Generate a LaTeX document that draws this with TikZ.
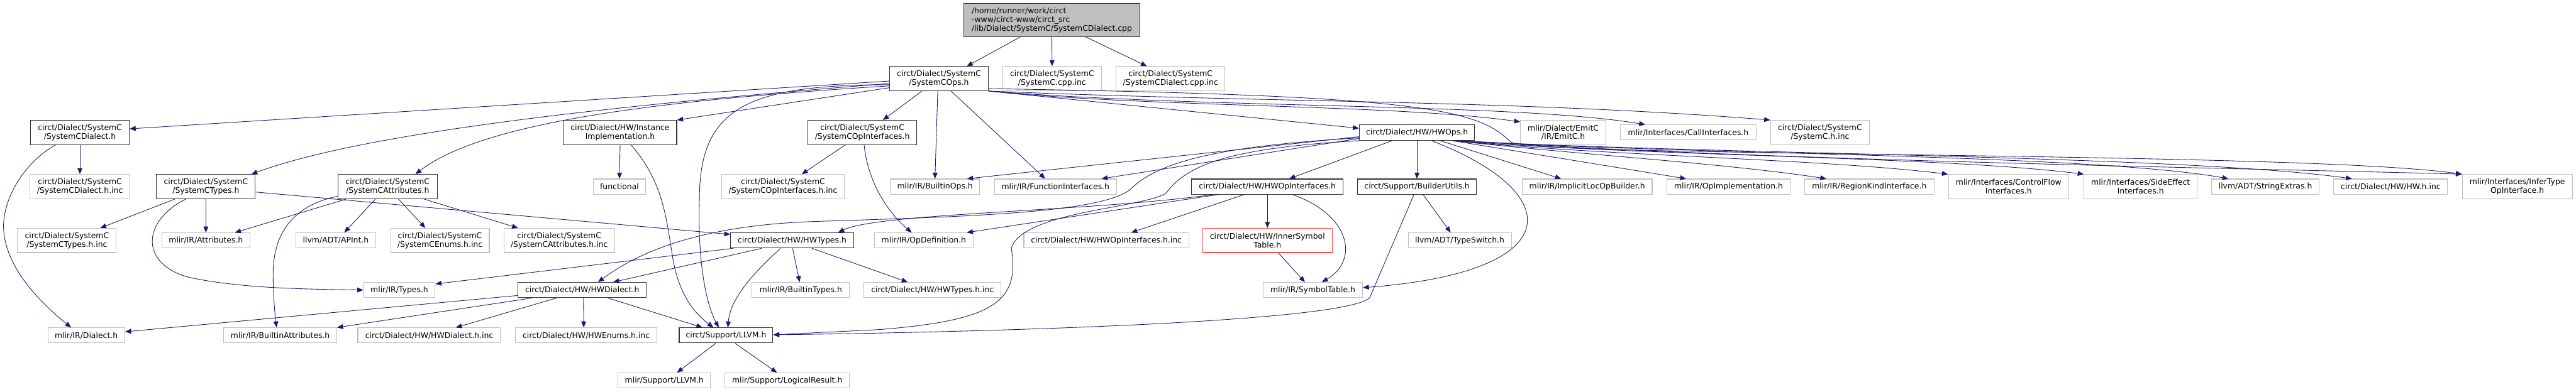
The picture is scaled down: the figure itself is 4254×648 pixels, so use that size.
\documentclass[tikz,border=0pt]{standalone}
\usepackage{fontspec}
\setmainfont{DejaVu Sans}
\usepackage{tikz}
\usetikzlibrary{arrows.meta}
\definecolor{edgeblue}{RGB}{25,25,112}
\definecolor{boxgray}{RGB}{191,191,191}

\begin{document}
\begin{tikzpicture}[
  x=1pt, y=-1pt,
  font=\fontsize{12.9}{14.5}\selectfont,
  hdrbox/.style={rectangle, draw=black!80, line width=1.1pt, fill=white,
                 inner sep=0pt, minimum height=25pt, align=center},
  extbox/.style={hdrbox, draw=boxgray},
  cutbox/.style={hdrbox, draw=red!70},
  two/.style={minimum height=40pt},
  arr/.style={-{Triangle[length=10pt,width=8pt]}, line width=0.9pt, edgeblue},
]
\useasboundingbox (0,0) rectangle (4254,648);

%% SOURCE FILE
\node[hdrbox, fill=boxgray, align=left, minimum width=290pt, minimum height=55pt] (root) at (1737, 33)
  {/home/runner/work/circt\\-www/circt-www/circt\_src\\/lib/Dialect/SystemC/SystemCDialect.cpp};

%% ROW 1
\node[hdrbox, two, minimum width=162.6pt] (scops)     at (1550.6, 130) {circt/Dialect/SystemC\\/SystemCOps.h};
\node[extbox, two, minimum width=162.7pt] (sccppinc)  at (1737.4, 130) {circt/Dialect/SystemC\\/SystemC.cpp.inc};
\node[extbox, two, minimum width=179.5pt] (scdcppinc) at (1933, 130)   {circt/Dialect/SystemC\\/SystemCDialect.cpp.inc};

%% ROW 2
\node[hdrbox, two, minimum width=163pt]   (scdialect) at (132, 219)    {circt/Dialect/SystemC\\/SystemCDialect.h};
\node[hdrbox, two, minimum width=187pt]   (instimpl)  at (1024, 219)   {circt/Dialect/HW/Instance\\Implementation.h};
\node[hdrbox, two, minimum width=179pt]   (scopif)    at (1424, 219)   {circt/Dialect/SystemC\\/SystemCOpInterfaces.h};
\node[hdrbox, minimum width=190.6pt, minimum height=26pt] (hwops) at (2340, 219) {circt/Dialect/HW/HWOps.h};
\node[extbox, two, minimum width=141pt]   (emitc)     at (2581.5, 219) {mlir/Dialect/EmitC\\/IR/EmitC.h};
\node[extbox, minimum width=223.6pt]      (callif)    at (2788, 219)   {mlir/Interfaces/CallInterfaces.h};
\node[extbox, two, minimum width=163pt]   (schinc)    at (3005.5, 219) {circt/Dialect/SystemC\\/SystemC.h.inc};

%% ROW 3
\node[extbox, two, minimum width=165pt]   (scdialectinc) at (132, 308.5)  {circt/Dialect/SystemC\\/SystemCDialect.h.inc};
\node[hdrbox, two, minimum width=163pt]   (sctypes)      at (340, 308.5)  {circt/Dialect/SystemC\\/SystemCTypes.h};
\node[hdrbox, two, minimum width=164pt]   (scattrs)      at (640, 308.5)  {circt/Dialect/SystemC\\/SystemCAttributes.h};
\node[extbox, minimum width=86pt]         (functional)   at (1023, 308.5) {functional};
\node[extbox, two, minimum width=203pt]   (scopifinc)    at (1293, 308.5) {circt/Dialect/SystemC\\/SystemCOpInterfaces.h.inc};
\node[extbox, minimum width=148pt]        (builtinops)   at (1544, 308.5) {mlir/IR/BuiltinOps.h};
\node[extbox, minimum width=201.5pt]      (funcif)       at (1743, 308.5) {mlir/IR/FunctionInterfaces.h};
\node[hdrbox, minimum width=250pt]        (hwopif)       at (2093, 308.5) {circt/Dialect/HW/HWOpInterfaces.h};
\node[hdrbox, minimum width=196pt]        (builderutils) at (2340, 308.5) {circt/Support/BuilderUtils.h};
\node[extbox, minimum width=214.6pt]      (implicitloc)  at (2621, 308.5) {mlir/IR/ImplicitLocOpBuilder.h};
\node[extbox, minimum width=203pt]        (opimpl)       at (2854.5, 308.5) {mlir/IR/OpImplementation.h};
\node[extbox, minimum width=213.5pt]      (regionkind)   at (3087, 308.5) {mlir/IR/RegionKindInterface.h};
\node[extbox, two, minimum width=199pt]   (ctrlflow)     at (3317, 308.5) {mlir/Interfaces/ControlFlow\\Interfaces.h};
\node[extbox, two, minimum width=186.6pt] (sideeffect)   at (3535, 308.5) {mlir/Interfaces/SideEffect\\Interfaces.h};
\node[extbox, minimum width=177.5pt]      (strextras)    at (3741, 308.5) {llvm/ADT/StringExtras.h};
\node[extbox, minimum width=188pt]        (hwhinc)       at (3948, 308.5) {circt/Dialect/HW/HW.h.inc};
\node[extbox, two, minimum width=181.5pt] (infertype)    at (4157, 308.5) {mlir/Interfaces/InferType\\OpInterface.h};

%% ROW 4
\node[extbox, two, minimum width=163pt]   (sctypesinc)  at (110.5, 397.5)  {circt/Dialect/SystemC\\/SystemCTypes.h.inc};
\node[extbox, minimum width=146pt]        (attributes)  at (340, 397.5)    {mlir/IR/Attributes.h};
\node[extbox, minimum width=132pt]        (apint)       at (554.6, 397.5)  {llvm/ADT/APInt.h};
\node[extbox, two, minimum width=163pt]   (scenumsinc)  at (726.5, 397.5)  {circt/Dialect/SystemC\\/SystemCEnums.h.inc};
\node[extbox, two, minimum width=183pt]   (scattrsinc)  at (923.5, 397.5)  {circt/Dialect/SystemC\\/SystemCAttributes.h.inc};
\node[hdrbox, minimum width=203pt]        (hwtypes)     at (1308, 397.5)   {circt/Dialect/HW/HWTypes.h};
\node[extbox, minimum width=163pt]        (opdef)       at (1525.5, 397.5) {mlir/IR/OpDefinition.h};
\node[extbox, minimum width=272.4pt]      (hwopifinc)   at (1827, 397.5)   {circt/Dialect/HW/HWOpInterfaces.h.inc};
\node[cutbox, two, minimum width=214pt]   (innersym)    at (2093, 397.5)   {circt/Dialect/HW/InnerSymbol\\Table.h};
\node[extbox, minimum width=170.4pt]      (typeswitch)  at (2410.6, 397.5) {llvm/ADT/TypeSwitch.h};

%% ROW 5
\node[extbox, minimum width=118pt]   (types)        at (659.5, 479.5)  {mlir/IR/Types.h};
\node[hdrbox, minimum width=211.7pt] (hwdialect)    at (961.5, 479.5)  {circt/Dialect/HW/HWDialect.h};
\node[extbox, minimum width=161pt]   (builtintypes) at (1322.5, 479.5) {mlir/IR/BuiltinTypes.h};
\node[extbox, minimum width=226.4pt] (hwtypesinc)   at (1540, 479.5)   {circt/Dialect/HW/HWTypes.h.inc};
\node[extbox, minimum width=164pt]   (symtab)       at (2168, 479.5)   {mlir/IR/SymbolTable.h};

%% ROW 6
\node[extbox, minimum width=127pt]   (dialect)      at (142.5, 554.5) {mlir/IR/Dialect.h};
\node[extbox, minimum width=186.4pt] (builtinattrs) at (462.8, 554.5) {mlir/IR/BuiltinAttributes.h};
\node[extbox, minimum width=235.7pt] (hwdialectinc) at (708.8, 554.5) {circt/Dialect/HW/HWDialect.h.inc};
\node[extbox, minimum width=233.3pt] (hwenumsinc)   at (968, 554.5)   {circt/Dialect/HW/HWEnums.h.inc};
\node[hdrbox, minimum width=154.7pt] (llvm)         at (1199, 554.5)  {circt/Support/LLVM.h};

%% ROW 7
\node[extbox, minimum width=152.4pt] (mlirllvm)      at (1097, 629) {mlir/Support/LLVM.h};
\node[extbox, minimum width=206pt]   (logicalresult) at (1300, 629) {mlir/Support/LogicalResult.h};

%% EDGES: source file
\draw[arr] ([xshift=-52]root.south) -- ([xshift=46]scops.north);
\draw[arr] (root.south) -- (sccppinc.north);
\draw[arr] ([xshift=56]root.south) -- ([xshift=-39]scdcppinc.north);

%% EDGES: SystemCOps.h
\draw[arr] ([yshift=-4]scops.west) -- ([yshift=6]scdialect.east);
\draw[arr] ([yshift=-8]scops.west) .. controls (1000,175) and (600,220) .. ([xshift=75]sctypes.north);
\draw[arr] ([yshift=-12]scops.west) .. controls (1100,165) and (800,200) .. ([xshift=46]scattrs.north);
\draw[arr] ([yshift=-15]scops.west) -- (instimpl.north east);
\draw[arr] ([yshift=-10]scops.west) .. controls (1230,140) and (1155,180) .. (1155,330)
  .. controls (1152,430) and (1165,500) .. ([xshift=-12]llvm.north);
\draw[arr] ([xshift=-28]scops.south) -- ([xshift=34]scopif.north);
\draw[arr] ([xshift=-2]scops.south) -- (builtinops.north);
\draw[arr] ([xshift=20]scops.south) -- ([xshift=-17]funcif.north);
\draw[arr] (scops.south east) -- ([yshift=7]hwops.west);
\draw[arr] (scops.south east) .. controls (1900,178) and (2300,172) .. ([yshift=-3]emitc.north west);
\draw[arr] (scops.south east) .. controls (2000,180) and (2500,170) .. ([xshift=-71]callif.north);
\draw[arr] (scops.south east) .. controls (2100,170) and (2500,165) .. (schinc.north west);
\draw[arr] ([yshift=4]scops.south east) .. controls (2350,158) and (2440,180) .. (2495,235)
  .. controls (2530,260) and (3800,250) .. (infertype.north west);

%% EDGES: HWOps.h
\draw[arr] ([xshift=-41]hwops.south) -- ([xshift=36]hwopif.north);
\draw[arr] (hwops.south) -- (builderutils.north);
\draw[arr] ([xshift=38]hwops.south) -- ([xshift=-43]implicitloc.north);
\draw[arr] ([xshift=58]hwops.south) -- ([xshift=-70]opimpl.north);
\draw[arr] ([xshift=24]hwops.south) .. controls (2590,320) and (2590,450) .. ([yshift=4]symtab.east);
\draw[arr] ([xshift=60]hwops.south) .. controls (2600,255) and (2850,270) .. ([xshift=-71]regionkind.north);
\draw[arr] ([xshift=62]hwops.south) .. controls (2650,258) and (3000,262) .. (ctrlflow.north west);
\draw[arr] ([xshift=64]hwops.south) .. controls (2700,258) and (3200,258) .. (sideeffect.north west);
\draw[arr] ([xshift=66]hwops.south) .. controls (2750,255) and (3450,254) .. ([xshift=-61]strextras.north);
\draw[arr] ([xshift=68]hwops.south) .. controls (2800,255) and (3600,256) .. ([xshift=-64]hwhinc.north);
\draw[arr] ([xshift=70]hwops.south) .. controls (2900,265) and (3700,278) .. (infertype.north west);
\draw[arr] ([yshift=-7]hwops.west) -- ([xshift=53]builtinops.north);
\draw[arr] ([yshift=-10]hwops.west) -- ([xshift=76]funcif.north);
\draw[arr] ([yshift=-9]hwops.west) .. controls (2040,240) and (1920,262) .. (1870,310)
  .. controls (1830,352) and (1600,358) .. (1350,366)
  .. controls (1150,372) and (1050,420) .. ([xshift=26]hwdialect.north);
\draw[arr] (hwops.south west) .. controls (2030,245) and (1960,272) .. (1925,320)
  .. controls (1880,345) and (1690,350) .. (1670,410)
  .. controls (1685,500) and (1640,530) .. (1450,545) -- ([yshift=1]llvm.east);

%% EDGES: HWOpInterfaces.h
\draw[arr] ([xshift=-38]hwopif.south) -- ([xshift=41]hwopifinc.north);
\draw[arr] (hwopif.south) -- (innersym.north);
\draw[arr] ([xshift=41]hwopif.south) .. controls (2230,355) and (2245,430) .. ([xshift=15]symtab.north);
\draw[arr] ([xshift=45]hwopif.south west) -- ([xshift=71]opdef.north);
\draw[arr] ([xshift=37]hwopif.south west) .. controls (1800,350) and (1450,352) .. ([xshift=76]hwtypes.north);
\draw[arr] ([xshift=18]innersym.south) -- ([xshift=-13]symtab.north);

%% EDGES: BuilderUtils.h, LLVM.h
\draw[arr] ([xshift=10]builderutils.south) -- ([xshift=-15]typeswitch.north);
\draw[arr] ([xshift=-5]builderutils.south) -- (2262,492)
  .. controls (2225,530) and (1700,548) .. ([yshift=1]llvm.east);
\draw[arr] ([xshift=-17]llvm.south) -- ([xshift=21]mlirllvm.north);
\draw[arr] ([xshift=15]llvm.south) -- ([xshift=-17]logicalresult.north);

%% EDGES: SystemCOpInterfaces.h, InstanceImplementation.h
\draw[arr] ([xshift=-28]scopif.south) -- ([xshift=31]scopifinc.north);
\draw[arr] ([xshift=3]scopif.south) .. controls (1433,300) and (1465,350) .. ([xshift=-20]opdef.north);
\draw[arr] (instimpl.south) -- (functional.north);
\draw[arr] ([xshift=18]instimpl.south) .. controls (1095,300) and (1100,360) .. (1110,420)
  .. controls (1120,490) and (1150,520) .. ([xshift=-21]llvm.north);

%% EDGES: SystemCDialect.h, SystemCTypes.h, SystemCAttributes.h
\draw[arr] (scdialect.south) -- (scdialectinc.north);
\draw[arr] ([xshift=-40]scdialect.south) .. controls (40,268) and (3,330) .. (6,380)
  .. controls (10,440) and (60,495) .. ([xshift=-25]dialect.north);
\draw[arr] ([xshift=-51]sctypes.south) -- ([xshift=55]sctypesinc.north);
\draw[arr] (sctypes.south) -- (attributes.north);
\draw[arr] ([xshift=-33]sctypes.south) .. controls (235,365) and (230,435) .. (310,458)
  .. controls (400,478) and (520,478) .. (types.west);
\draw[arr] ([yshift=-9]sctypes.east) -- ([yshift=10]hwtypes.west);
\draw[arr] ([xshift=-68]scattrs.south) -- ([xshift=48]attributes.north);
\draw[arr] ([xshift=-20]scattrs.south) -- ([xshift=14]apint.north);
\draw[arr] ([xshift=18]scattrs.south) -- ([xshift=-24]scenumsinc.north);
\draw[arr] ([xshift=60]scattrs.south) -- ([xshift=-68]scattrsinc.north);
\draw[arr] ([yshift=-16]scattrs.west) .. controls (490,338) and (452,380) .. (451,450)
  .. controls (451,490) and (454,520) .. ([xshift=-6]builtinattrs.north);

%% EDGES: HWTypes.h, HWDialect.h
\draw[arr] ([xshift=5]hwtypes.south west) -- ([yshift=-3]types.north east);
\draw[arr] ([xshift=-50]hwtypes.south) -- ([xshift=51]hwdialect.north);
\draw[arr] ([xshift=-19]hwtypes.south) .. controls (1240,455) and (1206,495) .. ([xshift=3]llvm.north);
\draw[arr] ([xshift=1]hwtypes.south) -- ([xshift=-2]builtintypes.north);
\draw[arr] ([xshift=33]hwtypes.south) -- ([xshift=-41]hwtypesinc.north);
\draw[arr] ([yshift=-9]hwdialect.west) -- ([yshift=6]dialect.east);
\draw[arr] ([xshift=24]hwdialect.south west) -- (builtinattrs.north east);
\draw[arr] ([xshift=-42]hwdialect.south) -- ([xshift=44]hwdialectinc.north);
\draw[arr] ([xshift=2]hwdialect.south) -- ([xshift=-4]hwenumsinc.north);
\draw[arr] ([xshift=42]hwdialect.south) -- ([xshift=-39]llvm.north);

\end{tikzpicture}
\end{document}
